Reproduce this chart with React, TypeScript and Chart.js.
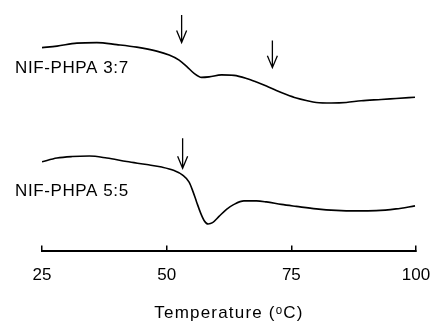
import React, { useEffect, useRef } from "react";
import { Chart, registerables } from "chart.js";

Chart.register(...registerables);

// Temperature (°C) and relative heat flow (arbitrary units)
const tempTop = [25, 28, 32, 36, 40, 44, 48, 50.5, 52.5, 54, 55.5, 57, 58.5, 61, 63.5, 66, 68, 70, 72, 74, 76, 78, 80, 83, 86, 89, 93, 96, 99.8];
const flowTop = [8.1, 8.16, 8.28, 8.3, 8.22, 8.12, 7.96, 7.8, 7.6, 7.35, 7.07, 6.91, 6.93, 7.01, 6.99, 6.87, 6.73, 6.57, 6.39, 6.23, 6.09, 5.99, 5.91, 5.89, 5.91, 5.98, 6.03, 6.07, 6.12];

const tempBottom = [25, 28, 31, 34.5, 38, 42, 46, 49, 51.5, 53.2, 54.5, 55.3, 56, 56.8, 57.5, 58.3, 59.2, 60.5, 62, 63.5, 65.5, 68, 70, 73, 76, 80, 84, 88, 92, 96, 99.8];
const flowBottom = [3.54, 3.69, 3.75, 3.77, 3.69, 3.55, 3.43, 3.33, 3.19, 3.01, 2.73, 2.34, 1.94, 1.5, 1.2, 1.06, 1.11, 1.36, 1.64, 1.84, 1.98, 1.98, 1.94, 1.84, 1.76, 1.66, 1.6, 1.58, 1.59, 1.66, 1.78];

const seriesLabels = ["NIF-PHPA 3:7", "NIF-PHPA 5:5"];
const labelTemps = [19.6, 19.6];
const labelFlows = [7.28, 2.38];

const arrowTemps = [53.0, 71.2, 53.2];
const arrowFrom = [9.4, 8.38, 4.48];
const arrowTo = [8.3, 7.3, 3.28];

const xTicks = [25, 50, 75, 100];
const xTitle = "Temperature (\u1D52C)";

const FONT = '"Liberation Sans", Arial, sans-serif';

const annotationsPlugin = {
  id: "dscAnnotations",
  beforeDraw(chart: any) {
    (chart.ctx as any).letterSpacing = "1.2px";
  },
  afterDatasetsDraw(chart: any) {
    (chart.ctx as any).letterSpacing = "0px";
  },
  afterDraw(chart: any) {
    const ctx = chart.ctx;
    const xs = chart.scales.x;
    const ys = chart.scales.y;
    ctx.save();
    ctx.strokeStyle = "#000";
    ctx.lineWidth = 1.3;
    for (let i = 0; i < arrowTemps.length; i++) {
      const x = xs.getPixelForValue(arrowTemps[i]);
      const y1 = ys.getPixelForValue(arrowFrom[i]);
      const y2 = ys.getPixelForValue(arrowTo[i]);
      ctx.beginPath();
      ctx.moveTo(x, y1);
      ctx.lineTo(x, y2);
      ctx.moveTo(x - 5, y2 - 12);
      ctx.lineTo(x, y2);
      ctx.lineTo(x + 5, y2 - 12);
      ctx.stroke();
    }
    (ctx as any).letterSpacing = "0.6px";
    ctx.fillStyle = "#000";
    ctx.font = "17px " + FONT;
    ctx.textAlign = "left";
    ctx.textBaseline = "middle";
    for (let i = 0; i < seriesLabels.length; i++) {
      ctx.fillText(seriesLabels[i], xs.getPixelForValue(labelTemps[i]), ys.getPixelForValue(labelFlows[i]));
    }
    (ctx as any).letterSpacing = "0px";
    ctx.restore();
  },
};

export default function App() {
  const ref = useRef<HTMLCanvasElement | null>(null);
  useEffect(() => {
    if (!ref.current) return;
    const mk = (t: number[], f: number[]) => t.map((x, i) => ({ x, y: f[i] }));
    const chart = new Chart(ref.current, {
      type: "line",
      data: {
        datasets: [
          { label: seriesLabels[0], data: mk(tempTop, flowTop), borderColor: "#000", borderWidth: 1.6, pointRadius: 0, cubicInterpolationMode: "monotone", fill: false },
          { label: seriesLabels[1], data: mk(tempBottom, flowBottom), borderColor: "#000", borderWidth: 1.6, pointRadius: 0, cubicInterpolationMode: "monotone", fill: false },
        ],
      },
      options: {
        responsive: false,
        animation: false,
        layout: { padding: { left: 42, right: 17, top: 0, bottom: 0 } },
        plugins: { legend: { display: false }, tooltip: { enabled: false } },
        scales: {
          x: {
            type: "linear",
            min: 25,
            max: 100,
            afterBuildTicks: (s: any) => {
              s.ticks = xTicks.map((v) => ({ value: v }));
            },
            afterFit: (s: any) => {
              s.paddingLeft = 0;
              s.paddingRight = 0;
              s.height = 74.5;
            },
            grid: { drawOnChartArea: false, drawTicks: true, tickLength: -5, color: "#000", lineWidth: 1.5 },
            border: { display: true, color: "#000", width: 2 },
            ticks: { z: 1, color: "#000", padding: 20, font: { family: FONT, size: 17 }, maxRotation: 0, callback: (v: any) => String(v) },
            title: { display: true, text: xTitle, color: "#000", font: { family: FONT, size: 17 }, padding: { top: 0, bottom: 1 } },
          },
          y: { display: false, min: 0, max: 10 },
        },
      },
      plugins: [annotationsPlugin],
    } as any);
    return () => chart.destroy();
  }, []);
  return (
    <div style={{ position: "absolute", left: 0, top: 0, width: 433, height: 325, background: "#fff" }}>
      <canvas ref={ref} width={433} height={325} />
    </div>
  );
}
